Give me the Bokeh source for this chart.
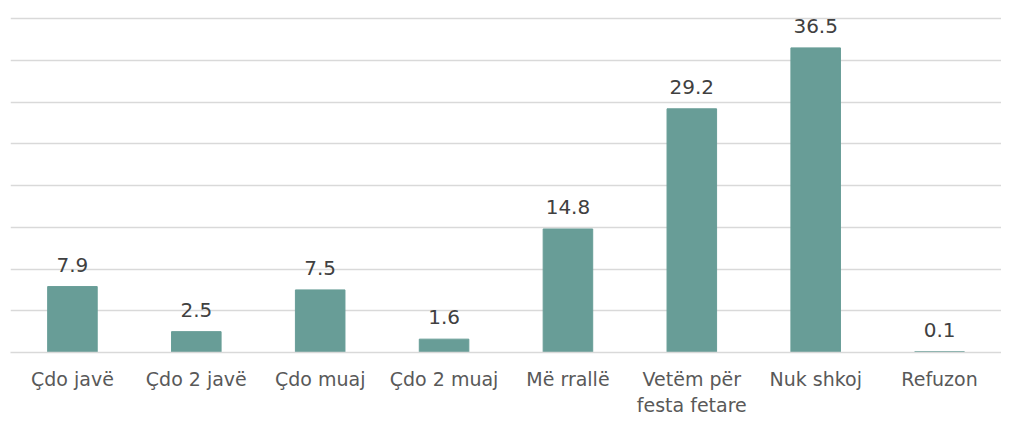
from bokeh.plotting import figure
from bokeh.models import ColumnDataSource, LabelSet, FactorRange
from bokeh.core.properties import value
from bokeh.embed import file_html
from bokeh.resources import INLINE

categories = ["Çdo javë", "Çdo 2 javë", "Çdo muaj", "Çdo 2 muaj", "Më rrallë",
              "Vetëm për\nfesta fetare", "Nuk shkoj", "Refuzon"]
values = [7.9, 2.5, 7.5, 1.6, 14.8, 29.2, 36.5, 0.1]
labels = ["7.9", "2.5", "7.5", "1.6", "14.8", "29.2", "36.5", "0.1"]
grid_ticks = [5, 10, 15, 20, 25, 30, 35, 40]

src = ColumnDataSource(dict(cat=categories, val=values, lab=labels))

p = figure(x_range=FactorRange(*categories, range_padding=0), y_range=(0, 40.5),
           width=1001, height=418, output_backend="svg", toolbar_location=None,
           min_border_left=10, min_border_right=0, min_border_top=14, min_border_bottom=60)
p.outline_line_color = None
p.background_fill_color = "white"
p.border_fill_color = "white"

p.vbar(x="cat", top="val", width=0.4, source=src, fill_color="#689D97", line_color="#689D97")

p.yaxis.visible = False
p.ygrid.grid_line_color = "#D9D9D9"
p.ygrid.grid_line_width = 1.5
p.ygrid.ticker = grid_ticks
p.xgrid.visible = False

p.xaxis.axis_line_color = "#D9D9D9"
p.xaxis.axis_line_width = 1.5
p.xaxis.major_tick_line_color = None
p.xaxis.minor_tick_line_color = None
p.xaxis.major_label_text_font = "DejaVu Sans"
p.xaxis.major_label_text_font_size = "19px"
p.xaxis.major_label_text_color = "#595959"
p.xaxis.major_label_standoff = 9

lbl = LabelSet(x="cat", y="val", text="lab", source=src, text_align="center",
               text_baseline="alphabetic", y_offset=15, text_font=value("DejaVu Sans"),
               text_font_size="20px", text_color="#404040")
p.add_layout(lbl)

open("out.html", "w").write(file_html(p, INLINE))
